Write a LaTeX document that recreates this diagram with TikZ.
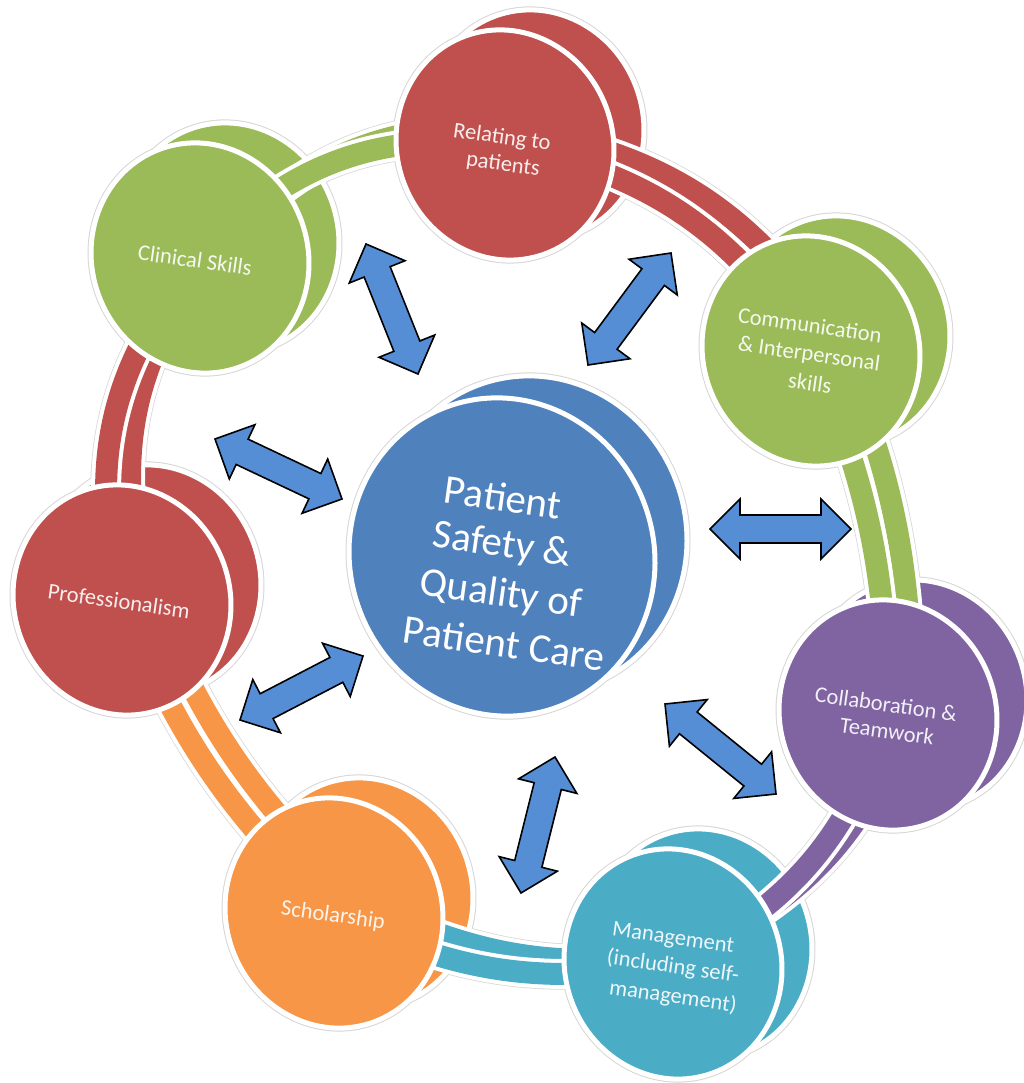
\documentclass[tikz,border=0pt]{standalone}
\usepackage{fontspec}
\setmainfont{Carlito}
\usetikzlibrary{calc}
\definecolor{cblue}{HTML}{4F81BD}
\definecolor{cred}{HTML}{C0504D}
\definecolor{cgreen}{HTML}{9BBB59}
\definecolor{cpurple}{HTML}{8064A2}
\definecolor{cteal}{HTML}{4BACC6}
\definecolor{corange}{HTML}{F79646}
\definecolor{carrow}{HTML}{558ED5}
\tikzset{
  ovalsize/.style={x radius=108, y radius=116, rotate=20},
  bigoval/.style={x radius=152, y radius=160, rotate=20},
  halo/.style={draw=black!16, line width=7pt},
  faceshape/.style={draw=white, line width=5pt},
  bandhalo/.style={draw=black!16, line width=31.5pt},
  bandwhite/.style={draw=white, line width=30pt},
  bandcol/.style={line width=22pt},
  blockarrow/.style={draw=black, fill=carrow, line width=1.6pt, line join=miter},
  outertext/.style={text=white, text opacity=0.9, anchor=center, rotate=-8, font=\fontsize{22.5}{26}\selectfont, inner sep=0pt},
  centertext/.style={text=white, anchor=center, rotate=-8, font=\fontsize{41}{48}\selectfont, inner sep=0pt}
}
\newcommand\dblarrow[2]{%
  \path (#1); \pgfgetlastxy{\ax}{\ay}%
  \path (#2); \pgfgetlastxy{\bx}{\by}%
  \pgfmathsetmacro\arrang{atan2((\by)-(\ay),(\bx)-(\ax))}%
  \pgfmathsetmacro\arrlen{veclen((\bx)-(\ax),(\by)-(\ay))}%
  \begin{scope}[shift={(#1)},rotate=\arrang]
    \draw[blockarrow] (0,0) -- (30,30) -- (30,14) -- (\arrlen-30,14) -- (\arrlen-30,30)
      -- (\arrlen,0) -- (\arrlen-30,-30) -- (\arrlen-30,-14) -- (30,-14) -- (30,-30) -- cycle;
  \end{scope}}
\begin{document}
\begin{tikzpicture}[x=1pt,y=1pt]
\useasboundingbox (0,0) rectangle (1024,-1083);
\clip (0,0) rectangle (1024,-1083);
% disc centres
\coordinate (dR) at (505,-145);
\coordinate (dC) at (811,-351);
\coordinate (dL) at (888,-715);
\coordinate (dM) at (673,-964);
\coordinate (dS) at (334,-913);
\coordinate (dP) at (122,-600);
\coordinate (dK) at (200,-258);
\coordinate (dZ) at (502,-557);
% halos
\foreach \n in {dR,dC,dL,dM,dS,dP,dK}{
  \draw[halo] ([shift={(30,20)}]\n) ellipse [ovalsize];
  \draw[halo] (\n) ellipse [ovalsize];
}
\draw[halo] ([shift={(32,22)}]dZ) ellipse [bigoval];
\draw[halo] (dZ) ellipse [bigoval];
\foreach \a/\b/\bend in {dR/dC/23, dC/dL/11, dL/dM/23, dM/dS/18, dS/dP/12, dP/dK/28, dK/dR/27}{
  \draw[bandhalo] ([shift={(24,14)}]\a) to[bend left=\bend] ([shift={(24,14)}]\b);
  \draw[bandhalo] (\a) to[bend left=\bend] (\b);
}
% back faces
\foreach \n/\c in {dR/cred, dC/cgreen, dL/cpurple, dM/cteal, dS/corange, dP/cred, dK/cgreen}{
  \draw[faceshape, fill=\c] ([shift={(30,20)}]\n) ellipse [ovalsize];
}
% back ring
\foreach \a/\b/\bend/\c in {dR/dC/23/cred, dC/dL/11/cgreen, dL/dM/23/cpurple, dM/dS/18/cteal, dS/dP/12/corange, dP/dK/28/cred, dK/dR/27/cgreen}{
  \draw[bandwhite] ([shift={(24,14)}]\a) to[bend left=\bend] ([shift={(24,14)}]\b);
  \draw[bandcol, draw=\c] ([shift={(24,14)}]\a) to[bend left=\bend] ([shift={(24,14)}]\b);
}
% front ring
\foreach \a/\b/\bend/\c in {dR/dC/23/cred, dC/dL/11/cgreen, dL/dM/23/cpurple, dM/dS/18/cteal, dS/dP/12/corange, dP/dK/28/cred, dK/dR/27/cgreen}{
  \draw[bandwhite] (\a) to[bend left=\bend] (\b);
  \draw[bandcol, draw=\c] (\a) to[bend left=\bend] (\b);
}
% front faces
\foreach \n/\c in {dR/cred, dC/cgreen, dL/cpurple, dM/cteal, dS/corange, dP/cred, dK/cgreen}{
  \draw[faceshape, fill=\c] (\n) ellipse [ovalsize];
}
% centre disc
\draw[faceshape, fill=cblue] ([shift={(32,22)}]dZ) ellipse [bigoval];
\draw[faceshape, fill=cblue] (dZ) ellipse [bigoval];
% arrows
\coordinate (a1s) at (366,-244); \coordinate (a1e) at (418,-374);
\coordinate (a2s) at (215,-439); \coordinate (a2e) at (342,-499);
\coordinate (a3s) at (240,-720); \coordinate (a3e) at (363,-656);
\coordinate (a4s) at (671,-253); \coordinate (a4e) at (588,-365);
\coordinate (a5s) at (710,-529); \coordinate (a5e) at (851,-529);
\coordinate (a6s) at (665,-704); \coordinate (a6e) at (776,-794);
\coordinate (a7s) at (555,-757); \coordinate (a7e) at (521,-893);
\dblarrow{a1s}{a1e}
\dblarrow{a2s}{a2e}
\dblarrow{a3s}{a3e}
\dblarrow{a4s}{a4e}
\dblarrow{a5s}{a5e}
\dblarrow{a6s}{a6e}
\dblarrow{a7s}{a7e}
% texts (one node per printed line)
\node[centertext] (tZ1) at (503,-497) {Patient};
\node[centertext] (tZ2) at (502,-546) {Safety \&};
\node[centertext] (tZ3) at (501,-595) {Quality of};
\node[centertext] (tZ4) at (504,-643) {Patient Care};
\node[outertext] (tR1) at (502,-138) {Relating to};
\node[outertext] (tR2) at (503,-165) {patients};
\node[outertext] (tC1) at (810,-325) {Communication};
\node[outertext] (tC2) at (809,-355) {\& Interpersonal};
\node[outertext] (tC3) at (810,-383) {skills};
\node[outertext] (tL1) at (886,-704) {Collaboration \&};
\node[outertext] (tL2) at (887,-731) {Teamwork};
\node[outertext] (tM1) at (673,-939) {Management};
\node[outertext] (tM2) at (673,-967) {(including self-};
\node[outertext] (tM3) at (673,-997) {management)};
\node[outertext] (tS) at (333,-916) {Scholarship};
\node[outertext] (tP) at (119,-601) {Professionalism};
\node[outertext] (tK) at (195,-260) {Clinical Skills};
\end{tikzpicture}
\end{document}
